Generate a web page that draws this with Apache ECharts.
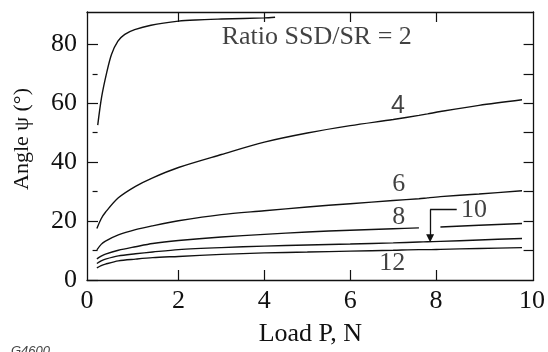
<!DOCTYPE html>
<html style="height: 100%">
<head>
    <meta charset="utf-8">
    <title>Angle vs Load</title>
    <script type="text/javascript" src="https://cdn.jsdelivr.net/npm/echarts@6/dist/echarts.min.js"></script>
</head>
<body style="height: 100%; margin: 0; background: #fff;">
<div id="container" style="width: 548px; height: 352px"></div>
<script type="text/javascript">
    // curve 2 has its own load points (steep rise, stops near 4 N)
    var loadRatio2 = [0.12, 0.21, 0.33, 0.44, 0.59, 0.75, 0.98, 1.36, 2.0, 2.4, 3.0, 4.0, 4.25];
    var angleRatio2 = [52.6, 62.1, 70.5, 76.6, 81.1, 83.4, 85.0, 86.5, 87.9, 88.3, 88.6, 89.0, 89.2];

    // other curves share these load points
    var loadP = [0.1, 0.2, 0.3, 0.6, 1.0, 1.4, 2.0, 3.0, 4.0, 5.0, 6.0, 7.0, 7.6, 7.8, 8.1, 9.0, 10.0];
    var angleRatio4 = [17.5, 20.8, 23.0, 27.9, 31.8, 34.7, 38.2, 42.6, 46.8, 49.9, 52.4, 54.5, 55.9, 56.4, 57.2, 59.3, 61.2];
    var angleRatio6 = [10.2, 12.1, 13.2, 15.3, 17.1, 18.4, 20.1, 22.2, 23.5, 24.8, 25.9, 27.0, 27.6, 27.9, 28.3, 29.2, 30.3];
    // '-' = gap where the arrow crosses
    var angleRatio8 = [7.2, 8.1, 8.8, 10.1, 11.3, 12.4, 13.4, 14.6, 15.5, 16.3, 16.9, 17.4, 17.7, '-', 18.0, 18.6, 19.2];
    var angleRatio10 = [5.6, 6.5, 7.1, 8.2, 8.9, 9.5, 10.3, 11.0, 11.5, 11.9, 12.2, 12.6, 12.9, 13.0, 13.1, 13.6, 14.1];
    var angleRatio12 = [4.1, 4.9, 5.4, 6.5, 7.1, 7.6, 8.0, 8.7, 9.2, 9.5, 9.8, 10.1, 10.3, 10.3, 10.4, 10.7, 11.0];

    // ticks
    var xLabelValues = [0, 2, 4, 6, 8, 10];
    var xTickValues = [2, 4, 6, 8];
    var yMajorValues = [0, 20, 40, 60, 80];
    var yMinorValues = [10, 30, 50, 70];
    var yRightValues = [10, 20, 30, 40, 50, 60, 70, 80];

    // curve labels [load, angle, text]
    var curveLabels = [
        [5.22, 82.6, 'Ratio SSD/SR = 2'],
        [7.11, 59.0, '4'],
        [7.13, 32.7, '6'],
        [7.13, 21.5, '8'],
        [8.88, 23.7, '10'],
        [6.98, 5.7, '12']
    ];
    // arrow from "10" down to its curve: elbow then shaft
    var arrowElbow = [[8.48, 23.9], [7.86, 23.9]];
    var arrowShaft = [[7.86, 23.9], [7.86, 14.2]];

    var ink = '#111';
    var serif = 'Liberation Serif';

    function pairs(xs, ys) {
        var out = [];
        for (var i = 0; i < xs.length; i++) {
            out.push([xs[i], ys[i]]);
        }
        return out;
    }

    function curve(xs, ys) {
        return {
            type: 'line',
            data: pairs(xs, ys),
            smooth: 0.3,
            connectNulls: false,
            showSymbol: false,
            silent: true,
            lineStyle: {color: ink, width: 1.4}
        };
    }

    function arrowLine(coords, withHead) {
        return {
            type: 'lines',
            coordinateSystem: 'cartesian2d',
            silent: true,
            symbol: withHead ? ['none', 'triangle'] : ['none', 'none'],
            symbolSize: [0, 8],
            lineStyle: {color: ink, width: 1.3, opacity: 1},
            itemStyle: {color: ink},
            data: [{coords: coords}]
        };
    }

    var labelData = [];
    for (var i = 0; i < curveLabels.length; i++) {
        var item = {value: [curveLabels[i][0], curveLabels[i][1]], name: curveLabels[i][2]};
        if (curveLabels[i][2] == '4') {
            item.label = {fontFamily: 'Liberation Sans', fontSize: 25};
        }
        labelData.push(item);
    }

    var dom = document.getElementById("container");
    var myChart = echarts.init(dom);
    var option = {
        animation: false,
        grid: {left: 87, right: 10, top: 12, bottom: 70},
        xAxis: [{
            type: 'value',
            min: -0.13,
            max: 10.27,
            position: 'bottom',
            name: 'Load P, N',
            nameLocation: 'middle',
            nameGap: 41,
            nameTextStyle: {fontFamily: serif, fontSize: 26, color: ink},
            axisLine: {show: true, onZero: false, lineStyle: {color: ink, width: 1.3}},
            axisTick: {show: true, inside: true, length: 10, customValues: xTickValues, lineStyle: {color: ink, width: 1.2}},
            axisLabel: {
                margin: 8,
                customValues: xLabelValues,
                fontFamily: serif, fontSize: 26, color: ink,
                formatter: function (v) {
                    if (v === 0) return '{l|0}';
                    if (v === 10) return '{r|10}';
                    return String(v);
                },
                rich: {
                    l: {fontFamily: serif, fontSize: 26, color: ink, padding: [0, 11, 0, 0]},
                    r: {fontFamily: serif, fontSize: 26, color: ink, padding: [0, 0, 0, 20]}
                }
            },
            splitLine: {show: false}
        }, {
            type: 'value',
            min: -0.13,
            max: 10.27,
            position: 'top',
            axisLine: {show: true, onZero: false, lineStyle: {color: ink, width: 1.3}},
            axisTick: {show: true, inside: true, length: 10, customValues: xTickValues, lineStyle: {color: ink, width: 1.2}},
            axisLabel: {show: false},
            splitLine: {show: false}
        }],
        yAxis: [{
            type: 'value',
            min: 0,
            max: 91,
            position: 'left',
            name: 'Angle ψ (°)',
            nameLocation: 'middle',
            nameRotate: 90,
            nameGap: 54,
            nameTextStyle: {fontFamily: serif, fontSize: 22, color: ink, padding: [0, 0, 0, 14]},
            axisLine: {show: true, onZero: false, lineStyle: {color: ink, width: 1.3}},
            axisTick: {show: true, inside: true, length: 11, customValues: yMajorValues, lineStyle: {color: ink, width: 1.2}},
            axisLabel: {margin: 10, customValues: yMajorValues, fontFamily: serif, fontSize: 26, color: ink},
            splitLine: {show: false}
        }, {
            type: 'value',
            min: 0,
            max: 91,
            position: 'left',
            axisLine: {show: false},
            axisTick: {show: true, inside: true, length: 5, customValues: yMinorValues, lineStyle: {color: ink, width: 1.2}},
            axisLabel: {show: false},
            splitLine: {show: false}
        }, {
            type: 'value',
            min: 0,
            max: 91,
            position: 'right',
            axisLine: {show: true, onZero: false, lineStyle: {color: ink, width: 1.3}},
            axisTick: {show: true, inside: true, length: 10, customValues: yRightValues, lineStyle: {color: ink, width: 1.2}},
            axisLabel: {show: false},
            splitLine: {show: false}
        }],
        graphic: [{
            type: 'text',
            left: 11,
            top: 345,
            style: {text: 'G4600', font: 'italic 13px Liberation Sans', fill: '#444'}
        }],
        series: [
            curve(loadRatio2, angleRatio2),
            curve(loadP, angleRatio4),
            curve(loadP, angleRatio6),
            curve(loadP, angleRatio8),
            curve(loadP, angleRatio10),
            curve(loadP, angleRatio12),
            {
                type: 'scatter',
                data: labelData,
                symbolSize: 0,
                silent: true,
                label: {
                    show: true,
                    position: 'inside',
                    formatter: '{b}',
                    fontFamily: serif,
                    fontSize: 26,
                    color: ink
                }
            },
            arrowLine(arrowElbow, false),
            arrowLine(arrowShaft, true)
        ]
    };
    myChart.setOption(option, true);
</script>
</body>
</html>
